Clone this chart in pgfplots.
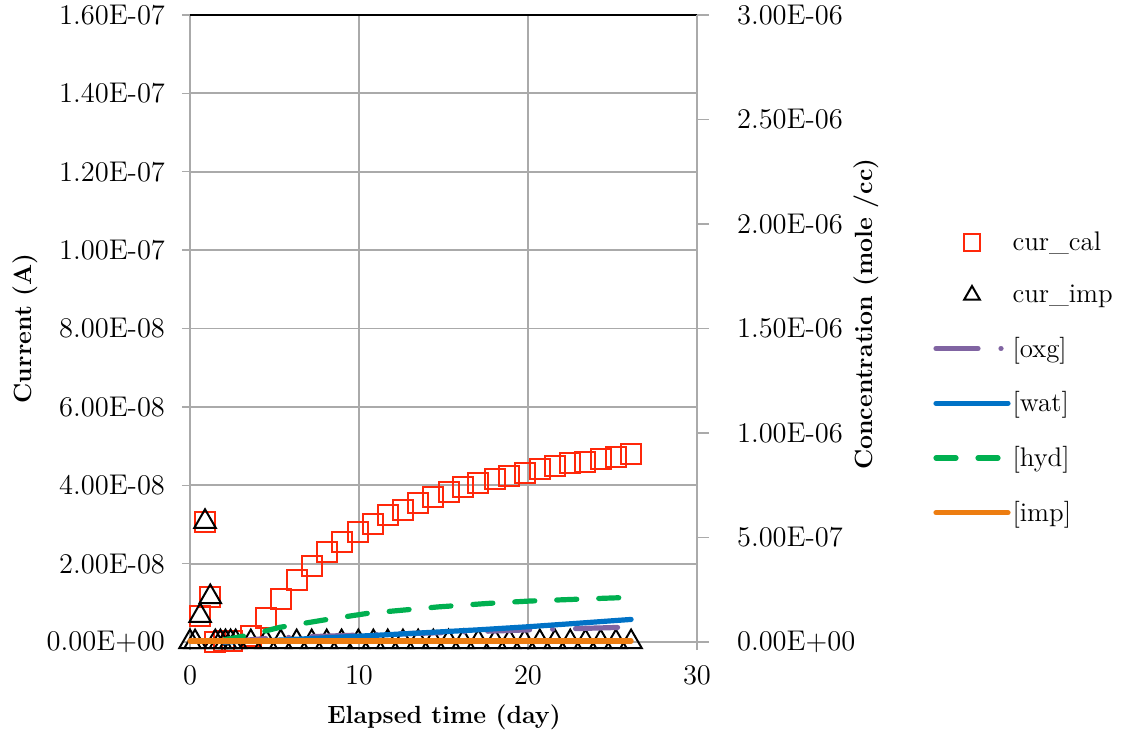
\documentclass[border=0pt]{standalone}
\usepackage{pgfplots}
\pgfplotsset{compat=1.18}
\definecolor{calred}{RGB}{255,40,10}
\definecolor{oxgc}{RGB}{128,100,162}
\definecolor{watc}{RGB}{0,114,198}
\definecolor{hydc}{RGB}{0,176,80}
\definecolor{impc}{RGB}{237,125,17}
\definecolor{gridc}{RGB}{170,170,170}
\pgfplotsset{
  markleg/.style={legend image code/.code={\draw[##1] plot coordinates {(18bp,0bp)};}},
  lineleg/.style={legend image code/.code={\draw[##1] (0bp,0bp) -- (36bp,0bp);}},
}
\begin{document}
\begin{tikzpicture}
\path[use as bounding box] (-95bp,-46.5bp) rectangle (465.5bp,321bp);
\pgfplotsset{
  every axis/.append style={
    scale only axis, width=253.5bp, height=313.5bp,
    xmin=0, xmax=30,
    font=\fontsize{14.3}{17}\selectfont,
    tick align=outside, major tick length=4bp,
    tick style={gridc, line width=0.7bp},
    axis line style={gridc, line width=0.9bp},
    clip=false,
  }
}
\begin{axis}[
  axis y line*=left, axis x line*=bottom,
  ymin=0, ymax=1.6e-7,
  xtick={0,10,20,30}, xticklabels={0,10,20,30},
  ytick={0,2e-8,4e-8,6e-8,8e-8,1e-7,1.2e-7,1.4e-7,1.6e-7},
  yticklabels={0.00E+00,2.00E-08,4.00E-08,6.00E-08,8.00E-08,1.00E-07,1.20E-07,1.40E-07,1.60E-07},
  yticklabel style={xshift=-5bp},
  xticklabel style={yshift=-4.5bp},
  scaled y ticks=false,
  grid=major, grid style={gridc, line width=0.9bp},
  xlabel={\bfseries\fontsize{12.5}{15}\selectfont Elapsed time (day)},
  ylabel={\bfseries\fontsize{12.5}{15}\selectfont Current (A)},
  xlabel style={at={(rel axis cs:0.501,-0.1196)}, anchor=center},
  ylabel style={at={(rel axis cs:-0.3254,0.5)}, anchor=center},
]
\addplot[only marks, mark=square, mark size=5bp, calred, mark options={line width=1bp}] coordinates {
(0.6,0.67e-8) (0.89,3.07e-8) (1.2,1.15e-8) (1.5,0.0) (2.0,0.02e-8) (2.5,0.02e-8)
(3.6,0.16e-8) (4.5,0.61e-8) (5.37,1.1e-8) (6.31,1.58e-8) (7.2,1.95e-8) (8.09,2.3e-8)
(8.97,2.56e-8) (9.96,2.81e-8) (10.85,3.01e-8) (11.7,3.24e-8) (12.6,3.37e-8) (13.5,3.55e-8)
(14.4,3.71e-8) (15.3,3.84e-8) (16.17,3.96e-8) (17.06,4.07e-8) (18.05,4.15e-8) (18.9,4.24e-8)
(19.8,4.32e-8) (20.7,4.41e-8) (21.6,4.49e-8) (22.5,4.56e-8) (23.4,4.6e-8) (24.3,4.66e-8)
(25.2,4.73e-8) (26.1,4.79e-8)
};
\addplot[only marks, mark=triangle, mark size=6.2bp, black, mark options={line width=1bp}] coordinates {
(0,0) (0.3,0) (0.6,0.67e-8) (0.89,3.07e-8) (1.2,1.15e-8) (1.5,0) (1.8,0) (2.1,0) (2.4,0) (2.7,0)
(3.6,0) (4.5,0) (5.37,0) (6.31,0) (7.2,0) (8.09,0) (8.97,0) (9.96,0) (10.85,0) (11.7,0)
(12.6,0) (13.5,0) (14.4,0) (15.3,0) (16.17,0) (17.06,0) (18.05,0) (18.9,0) (19.8,0) (20.7,0)
(21.6,0) (22.5,0) (23.4,0) (24.3,0) (25.2,0) (26.1,0)
};
\draw[black, line width=1bp] (rel axis cs:0,1) -- (rel axis cs:1,1);
\end{axis}
\begin{axis}[
  axis y line*=right, axis x line=none,
  ymin=0, ymax=3e-6,
  major tick length=6bp,
  ytick={0,5e-7,1e-6,1.5e-6,2e-6,2.5e-6,3e-6},
  yticklabels={0.00E+00,5.00E-07,1.00E-06,1.50E-06,2.00E-06,2.50E-06,3.00E-06},
  yticklabel style={xshift=10.5bp},
  scaled y ticks=false,
  ylabel={\bfseries\fontsize{12.5}{15}\selectfont Concentration (mole /cc)},
  ylabel style={at={(rel axis cs:1.333,0.523)}, anchor=center},
  legend style={at={(rel axis cs:1.4655,0.6585)}, anchor=north west, draw=none, fill=none,
    row sep=13.8bp, font=\fontsize{13.5}{16}\selectfont, inner sep=0pt,
    nodes={inner sep=1pt}},
  legend cell align=left,
  lineleg,
]
\addlegendimage{only marks, mark=square, mark size=4.2bp, calred, mark options={line width=1bp}, markleg}
\addlegendentry{cur\_cal}
\addlegendimage{only marks, mark=triangle, mark size=4.5bp, black, mark options={line width=1bp}, markleg}
\addlegendentry{cur\_imp}
\addplot[oxgc, line width=2.6bp, line cap=round, dash pattern=on 21bp off 11.5bp on 0.01bp off 11.5bp] coordinates {
(2,0) (5,0.02e-6) (10,0.033e-6) (15,0.045e-6) (20,0.058e-6) (25.5,0.07e-6)
};
\addlegendentry{[oxg]}
\addplot[watc, line width=2.6bp, line cap=round] coordinates {
(2,0) (5,0.008e-6) (8,0.02e-6) (11,0.032e-6) (14,0.045e-6) (17,0.058e-6) (20,0.073e-6) (23,0.09e-6) (26.1,0.108e-6)
};
\addlegendentry{[wat]}
\addplot[hydc, line width=2.6bp, line cap=round, dash pattern=on 10bp off 11bp] coordinates {
(2.0,0.01e-6) (3.6,0.035e-6) (5.3,0.07e-6) (7.9,0.105e-6) (10.5,0.137e-6) (14.7,0.168e-6) (17.7,0.185e-6) (20.1,0.196e-6) (22.7,0.204e-6) (25.8,0.213e-6)
};
\addlegendentry{[hyd]}
\addplot[impc, line width=2.6bp, line cap=round] coordinates {
(0,0.005e-6) (26.1,0.005e-6)
};
\addlegendentry{[imp]}
\end{axis}
\end{tikzpicture}
\end{document}
